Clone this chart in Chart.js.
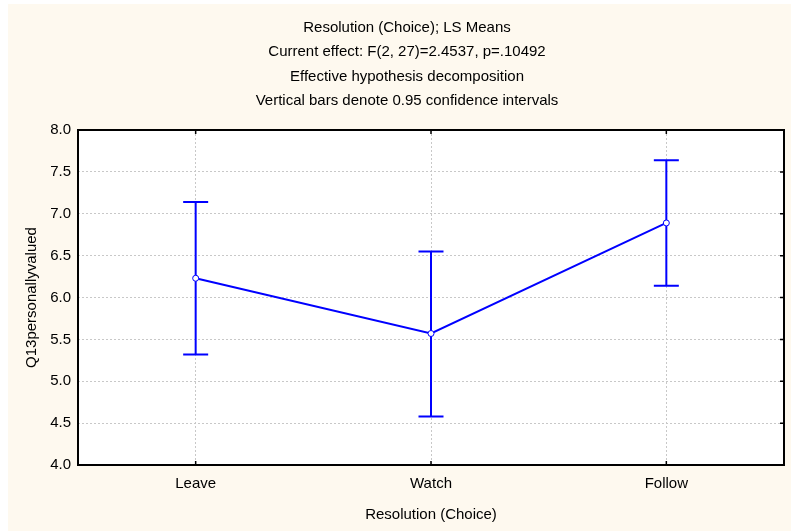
<!DOCTYPE html>
<html>
<head>
<meta charset="utf-8">
<script src="https://cdn.jsdelivr.net/npm/chart.js@4.4.1/dist/chart.umd.min.js"></script>
<style>
  html, body { margin: 0; padding: 0; background: #ffffff; }
  #frame { position: absolute; left: 8px; top: 4px; width: 783px; height: 527px; background: #fef9ef; }
  canvas { display: block; }
</style>
</head>
<body>
<div id="frame"><canvas id="c" width="783" height="527"></canvas></div>
<script>
// LS means per resolution choice with 0.95 confidence limits
const categories = ['Leave', 'Watch', 'Follow'];
const lsMeans = [6.23, 5.57, 6.89];
const ciLow = [5.32, 4.58, 6.14];
const ciHigh = [7.14, 6.55, 7.64];
const titleLines = [
  'Resolution (Choice); LS Means',
  'Current effect: F(2, 27)=2.4537, p=.10492',
  'Effective hypothesis decomposition',
  'Vertical bars denote 0.95 confidence intervals'
];
const xTitle = 'Resolution (Choice)';
const yTitle = 'Q13personallyvalued';

const BLUE = '#0000ff';
const FONT = "'Liberation Sans', Arial, sans-serif";

// white plot background
const plotBackground = {
  id: 'plotBackground',
  beforeDraw(chart) {
    const {ctx, chartArea: a} = chart;
    ctx.save();
    ctx.fillStyle = '#ffffff';
    ctx.fillRect(a.left, a.top, a.right - a.left, a.bottom - a.top);
    ctx.restore();
  }
};

// multi-line heading, centred on the canvas
const headingLines = {
  id: 'headingLines',
  afterDraw(chart) {
    const {ctx} = chart;
    const cx = 399;
    ctx.save();
    ctx.fillStyle = '#000000';
    ctx.font = '15px ' + FONT;
    ctx.textAlign = 'center';
    ctx.textBaseline = 'middle';
    titleLines.forEach((line, i) => {
      ctx.fillText(line, cx, 24 + i * 24.3);
    });
    ctx.restore();
  }
};

// vertical confidence bars with end caps, drawn under the mean line
const errorBars = {
  id: 'errorBars',
  beforeDatasetsDraw(chart) {
    const {ctx, scales: {x, y}} = chart;
    const cap = 12.5;
    ctx.save();
    ctx.strokeStyle = BLUE;
    ctx.lineWidth = 2;
    categories.forEach((c, i) => {
      const px = x.getPixelForValue(i);
      const yLo = y.getPixelForValue(ciLow[i]);
      const yHi = y.getPixelForValue(ciHigh[i]);
      ctx.beginPath();
      ctx.moveTo(px, yLo); ctx.lineTo(px, yHi);
      ctx.moveTo(px - cap, yHi); ctx.lineTo(px + cap, yHi);
      ctx.moveTo(px - cap, yLo); ctx.lineTo(px + cap, yLo);
      ctx.stroke();
    });
    ctx.restore();
  }
};

// plot frame with short inward tick marks
const plotFrame = {
  id: 'plotFrame',
  afterDatasetsDraw(chart) {
    const {ctx, chartArea: a, scales: {x, y}} = chart;
    ctx.save();
    ctx.strokeStyle = '#000000';
    ctx.lineWidth = 2;
    ctx.strokeRect(a.left, a.top, a.right - a.left, a.bottom - a.top);
    ctx.lineWidth = 1.5;
    ctx.beginPath();
    x.ticks.forEach((t, i) => {
      const px = x.getPixelForTick(i);
      ctx.moveTo(px, a.top); ctx.lineTo(px, a.top + 4);
      ctx.moveTo(px, a.bottom); ctx.lineTo(px, a.bottom - 4);
    });
    y.ticks.forEach((t, i) => {
      const py = y.getPixelForTick(i);
      ctx.moveTo(a.right, py); ctx.lineTo(a.right - 4, py);
    });
    ctx.stroke();
    ctx.restore();
  }
};

new Chart(document.getElementById('c'), {
  type: 'line',
  data: {
    labels: categories,
    datasets: [{
      data: lsMeans,
      borderColor: BLUE,
      borderWidth: 2,
      pointRadius: 3,
      pointBorderWidth: 1,
      pointBackgroundColor: '#ffffff',
      pointBorderColor: BLUE,
      tension: 0
    }]
  },
  options: {
    responsive: false,
    animation: false,
    events: [],
    layout: { padding: { left: 0, right: 7, top: 126, bottom: 0 } },
    plugins: {
      legend: { display: false },
      tooltip: { enabled: false },
      title: { display: false }
    },
    scales: {
      x: {
        offset: true,
        grid: { offset: false, color: '#c8c8c8', lineWidth: 1, drawTicks: false },
        border: { display: false, dash: [2, 2] },
        ticks: { color: '#000000', font: { family: FONT, size: 15 }, padding: 10 },
        title: {
          display: true, text: xTitle, color: '#000000',
          font: { family: FONT, size: 15 }, padding: { top: 0, bottom: 7 }
        },
        afterFit(s) { s.height = 66; }
      },
      y: {
        min: 4, max: 8,
        grid: { color: '#c8c8c8', lineWidth: 1, drawTicks: false },
        border: { display: false, dash: [2, 2] },
        ticks: {
          stepSize: 0.5, color: '#000000', font: { family: FONT, size: 15 }, padding: 7,
          callback: v => Number(v).toFixed(1)
        },
        title: {
          display: true, text: yTitle, color: '#000000',
          font: { family: FONT, size: 15 }, padding: { top: 15, bottom: 0 }
        },
        afterFit(s) { s.width = 70; }
      }
    }
  },
  plugins: [plotBackground, errorBars, plotFrame, headingLines]
});
</script>
</body>
</html>
